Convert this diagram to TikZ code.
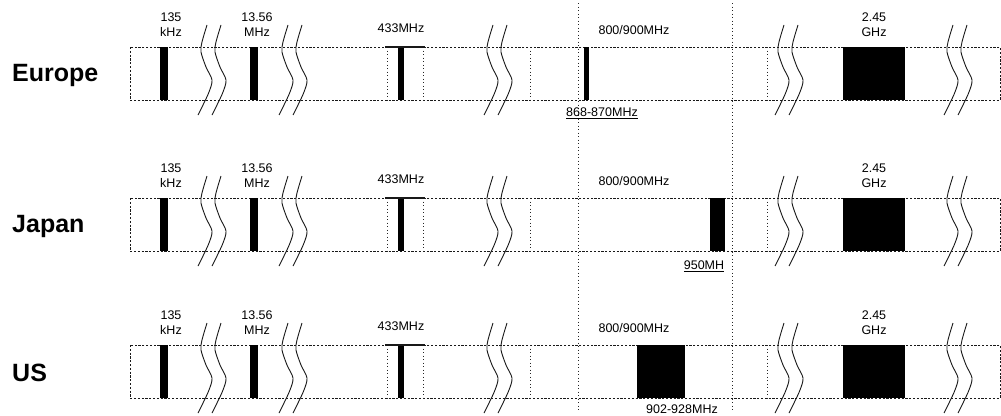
\documentclass[tikz,border=0pt]{standalone}
\usepackage{fontspec}
\setmainfont{Liberation Sans}
\begin{document}
\begin{tikzpicture}[x=1pt,y=-1pt,
  dl/.style={line width=1pt, dash pattern=on 2.2pt off 1.6pt, black!90},
  vd/.style={line width=1pt, dash pattern=on 1.3pt off 2.2pt, black!85},
  barf/.style={fill=black, draw=none},
  wv/.style={line width=0.9pt, black!90},
  sm/.style={font=\fontsize{12.5}{15}\selectfont, align=center, inner sep=0pt},
  big/.style={font=\fontsize{25}{28}\selectfont\bfseries, anchor=west, inner sep=0pt},
  brk/.pic={
    \draw[wv] plot[smooth] coordinates {(7,-22) (2,-5) (1,5) (6,20) (12,33) (9,45) (3,58) (-2,68)};
    \draw[wv] plot[smooth] coordinates {(21,-22) (16,-5) (15,5) (20,20) (26,33) (23,45) (17,58) (12,68)};
  }]
\useasboundingbox (0,0) rectangle (1001,415);
% long vertical dotted lines
\coordinate (v1t) at (578,3);
\coordinate (v1b) at (578,410);
\coordinate (v2t) at (732,3);
\coordinate (v2b) at (732,410);
\draw[vd] (v1t) -- (v1b);
\draw[vd] (v2t) -- (v2b);
\foreach \yt/\nm/\r in {47/Europe/e,198/Japan/j,345/US/u}{
  \draw[dl] (130,\yt) rectangle (1000,{\yt+53});
  \foreach \xx in {387,423,530,767}{
    \draw[vd] (\xx,\yt) -- (\xx,{\yt+53});
  }
  \fill[barf] (160,\yt) rectangle (168,{\yt+53});
  \fill[barf] (250,\yt) rectangle (258,{\yt+53});
  \fill[barf] (398,\yt) rectangle (404,{\yt+53});
  \draw[line width=1.2pt, black!90] (385,\yt) -- (425,\yt);
  \fill[barf] (843,\yt) rectangle (905,{\yt+53});
  \foreach \bx in {200,281,486,777,946}{
    \pic at (\bx,\yt) {brk};
  }
  \node[big] (\r name) at (12,{\yt+28}) {\nm};
  \node[sm] (\r k) at (171,{\yt-22}) {135\\kHz};
  \node[sm] (\r m) at (257,{\yt-22}) {13.56\\MHz};
  \node[sm] (\r f) at (401,{\yt-19}) {433MHz};
  \node[sm] (\r n) at (634,{\yt-17}) {800/900MHz};
  \node[sm] (\r g) at (874,{\yt-22}) {2.45\\GHz};
}
% Europe
\fill[barf] (584,47) rectangle (589,100);
\node[sm] (e868) at (602,113) {\underline{868-870MHz}};
% Japan
\fill[barf] (710,198) rectangle (725,251);
\node[sm] (j950) at (704,266) {\underline{950MH}};
% US
\fill[barf] (637,345) rectangle (685,398);
\node[sm] (u902) at (682,409) {902-928MHz};
\end{tikzpicture}
\end{document}
